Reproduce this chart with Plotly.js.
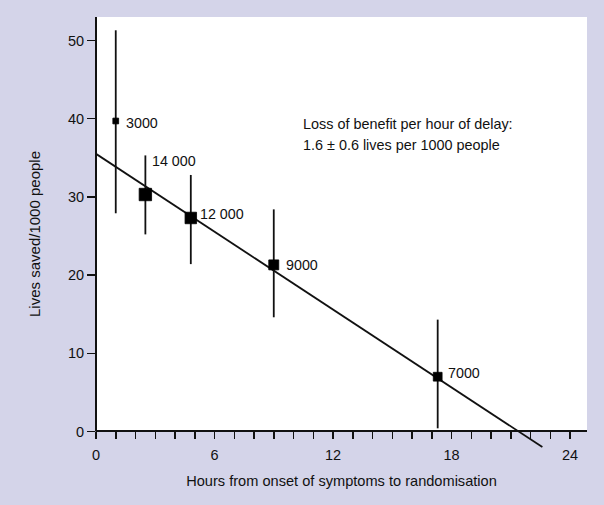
<!DOCTYPE html>
<html>
<head>
<meta charset="utf-8">
<script src="https://cdn.plot.ly/plotly-3.0.1.min.js"></script>
<style>html,body{margin:0;padding:0;background:#d4d4e9;}#chart{width:604px;height:505px;}</style>
</head>
<body>
<div id="chart"></div>
<script>
// ---- data ----
var hours = [1.0, 2.5, 4.8, 9.0, 17.3];
var livesSaved = [39.7, 30.3, 27.3, 21.3, 7.0];
var ciLower = [27.9, 25.2, 21.4, 14.6, 0.4];
var ciUpper = [51.3, 35.3, 32.8, 28.4, 14.3];
var patients = [3000, 14000, 12000, 9000, 7000];
var pointLabels = ['3000', '14 000', '12 000', '9000', '7000'];
var fitX = [0, 22.6];
var fitY = [35.5, -2.0];
var xTickVals = [0, 6, 12, 18, 24];
var yTickVals = [0, 10, 20, 30, 40, 50];
var noteLines = ['Loss of benefit per hour of delay:', '1.6 \u00b1 0.6 lives per 1000 people'];

// ---- layout geometry ----
var BG = '#d4d4e9';
var INK = '#111111';
var FONT = 'Liberation Sans, Arial, sans-serif';
var xMax = 24.86, yMax = 53.0, yMin = -2.5;
var xAxisPos = (0 - yMin) / (yMax - yMin);

var errPlus = livesSaved.map(function (v, i) { return ciUpper[i] - v; });
var errMinus = livesSaved.map(function (v, i) { return v - ciLower[i]; });
var markerSizes = patients.map(function (n) { return Math.sqrt(n) * 0.105; });

var traces = [
  {
    x: fitX, y: fitY, type: 'scatter', mode: 'lines',
    line: {color: INK, width: 1.8}, hoverinfo: 'skip', showlegend: false
  },
  {
    x: hours, y: livesSaved, type: 'scatter', mode: 'markers',
    marker: {symbol: 'square', color: '#000000', opacity: 1, size: markerSizes,
      line: {width: 0.8, color: '#000000'}},
    error_y: {type: 'data', symmetric: false, array: errPlus, arrayminus: errMinus,
      width: 0, thickness: 1.8, color: INK},
    showlegend: false, cliponaxis: false
  }
];

var labelOffsets = [[8, -1.5], [5, 33.5], [7, 4], [10, 0], [8, 3.5]];
var annotations = pointLabels.map(function (t, i) {
  return {x: hours[i], y: livesSaved[i], xref: 'x', yref: 'y', text: t, showarrow: false,
    xanchor: 'left', yanchor: 'middle', xshift: labelOffsets[i][0], yshift: labelOffsets[i][1],
    font: {family: FONT, size: 14.3, color: INK}};
});
annotations.push({x: 10.4, y: 39.3, xref: 'x', yref: 'y', text: noteLines[0], showarrow: false,
  xanchor: 'left', yanchor: 'middle', font: {family: FONT, size: 14.4, color: INK}});
annotations.push({x: 10.4, y: 36.6, xref: 'x', yref: 'y', text: noteLines[1], showarrow: false,
  xanchor: 'left', yanchor: 'middle', font: {family: FONT, size: 14.4, color: INK}});

var layout = {
  width: 604, height: 505,
  paper_bgcolor: BG, plot_bgcolor: BG,
  margin: {l: 96, r: 17, t: 17, b: 54, pad: 0},
  font: {family: FONT, size: 14, color: INK},
  showlegend: false,
  xaxis: {
    range: [0, xMax], anchor: 'free', position: xAxisPos,
    tickvals: xTickVals, ticks: 'outside', ticklen: 7, tickwidth: 1.5, tickcolor: INK,
    ticklabelstandoff: 3,
    minor: {dtick: 1, tick0: 0, ticks: 'outside', ticklen: 7, tickwidth: 1.5, tickcolor: INK, showgrid: false},
    showline: true, linewidth: 2, linecolor: INK,
    showgrid: false, zeroline: false,
    tickfont: {family: FONT, size: 14.5, color: INK},
    title: {text: 'Hours from onset of symptoms to randomisation', standoff: 13,
      font: {family: FONT, size: 14.6, color: INK}}
  },
  yaxis: {
    range: [yMin, yMax], tickvals: yTickVals,
    ticks: 'outside', ticklen: 8, tickwidth: 1.5, tickcolor: INK,
    showline: false, showgrid: false, zeroline: false,
    tickfont: {family: FONT, size: 14.5, color: INK},
    title: {text: 'Lives saved/1000 people', standoff: 23,
      font: {family: FONT, size: 15, color: INK}}
  },
  shapes: [
    {type: 'rect', xref: 'x', yref: 'y', x0: 0, x1: xMax, y0: 0, y1: yMax,
      fillcolor: '#ffffff', line: {width: 0}, layer: 'below'},
    {type: 'line', xref: 'paper', yref: 'y', x0: 0, x1: 0, y0: 0, y1: yMax,
      line: {color: INK, width: 2}, layer: 'above'}
  ],
  annotations: annotations
};

Plotly.newPlot('chart', traces, layout, {staticPlot: true, displayModeBar: false});
</script>
</body>
</html>
